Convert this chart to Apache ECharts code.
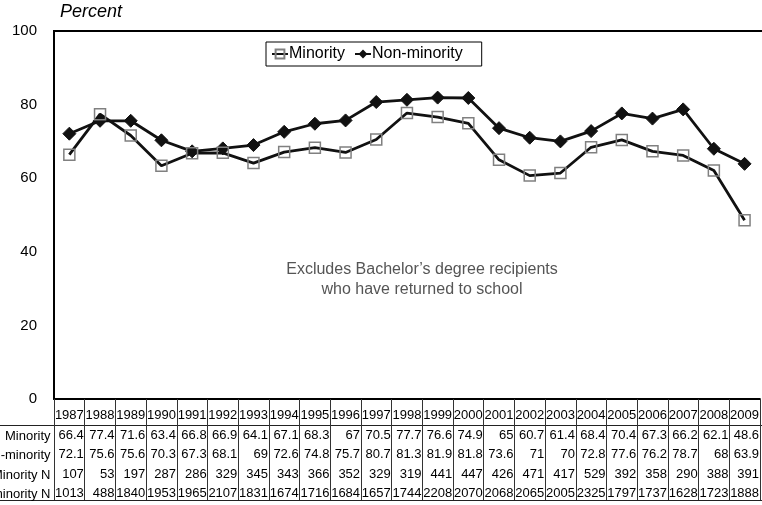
<!DOCTYPE html>
<html>
<head>
<meta charset="utf-8">
<script src="https://cdn.jsdelivr.net/npm/echarts@6/dist/echarts.min.js"></script>
<style>
html,body{margin:0;padding:0;background:#fff;}
#c{width:762px;height:505px;}
</style>
</head>
<body>
<div id="c"></div>
<script>
var years = ['1987','1988','1989','1990','1991','1992','1993','1994','1995','1996','1997','1998','1999','2000','2001','2002','2003','2004','2005','2006','2007','2008','2009'];
var minority = [66.4,77.4,71.6,63.4,66.8,66.9,64.1,67.1,68.3,67,70.5,77.7,76.6,74.9,65,60.7,61.4,68.4,70.4,67.3,66.2,62.1,48.6];
var nonMinority = [72.1,75.6,75.6,70.3,67.3,68.1,69,72.6,74.8,75.7,80.7,81.3,81.9,81.8,73.6,71,70,72.8,77.6,76.2,78.7,68,63.9];
var minorityN = [107,53,197,287,286,329,345,343,366,352,329,319,441,447,426,471,417,529,392,358,290,388,391];
var nonMinorityN = [1013,488,1840,1953,1965,2107,1831,1674,1716,1684,1657,1744,2208,2070,2068,2065,2005,2325,1797,1737,1628,1723,1888];
var rowLabels = ['Minority','Non-minority','Minority N','Non-minority N'];
var note = ['Excludes Bachelor\u2019s degree recipients','who have returned to school'];

var FONT = 'Liberation Sans, Arial, sans-serif';
var chart = echarts.init(document.getElementById('c'), null, {renderer:'canvas'});

var rowY = [436.25, 455.75, 475.25, 494.75];
var graphics = [
  {type:'text', left:60, top:3, style:{text:'Percent', font:'italic 18px ' + FONT, fill:'#000'}},
  {type:'line', shape:{x1:53, y1:31, x2:762, y2:31}, style:{stroke:'#000', lineWidth:2}},
  {type:'line', shape:{x1:0, y1:425.5, x2:762, y2:425.5}, style:{stroke:'#222', lineWidth:1}},
  {type:'line', shape:{x1:0, y1:500.5, x2:762, y2:500.5}, style:{stroke:'#222', lineWidth:1}},
  {type:'text', x:422, y:280, style:{text:note.join('\n'), font:'16px ' + FONT, fill:'#555', align:'center', verticalAlign:'middle', lineHeight:20}}
];
rowLabels.forEach(function(t, i){
  graphics.push({type:'text', x:50.5, y:rowY[i], style:{text:t, font:'13px ' + FONT, fill:'#000', align:'right', verticalAlign:'middle'}});
});

chart.setOption({
  animation:false,
  backgroundColor:'#fff',
  grid:{left:54, top:31, width:708.4, height:368, containLabel:false},
  legend:{
    left:266, top:42, padding:[4,19,4,5], itemGap:9, itemWidth:16, itemHeight:11,
    borderColor:'#000', borderWidth:1,
    textStyle:{fontFamily:FONT, fontSize:16, color:'#000', padding:[0,0,0,-4]},
    data:['Minority','Non-minority']
  },
  xAxis:{
    type:'category', data:years, boundaryGap:true, position:'bottom',
    axisLine:{show:true, onZero:false, lineStyle:{color:'#000', width:2}},
    axisTick:{show:true, alignWithLabel:false, length:101, lineStyle:{color:'#333', width:1}},
    axisLabel:{
      interval:0, margin:7, color:'#000', fontFamily:FONT, fontSize:13,
      formatter:function(v, i){
        return '{y|' + v + '}\n{v|' + minority[i] + '}\n{v|' + nonMinority[i] + '}\n{v|' + minorityN[i] + '}\n{v|' + nonMinorityN[i] + '}';
      },
      rich:{
        y:{width:29, align:'center', fontFamily:FONT, fontSize:13, color:'#000', lineHeight:19.5},
        v:{width:26, align:'right', fontFamily:FONT, fontSize:13, color:'#000', lineHeight:19.5}
      }
    },
    splitLine:{show:false}
  },
  yAxis:{
    type:'value', min:0, max:100, interval:20,
    axisLine:{show:true, lineStyle:{color:'#000', width:2}},
    axisTick:{show:false},
    axisLabel:{margin:17, color:'#000', fontFamily:FONT, fontSize:15},
    splitLine:{show:false}
  },
  series:[{
    name:'Non-minority', type:'line', data:nonMinority,
    symbol:'diamond', symbolSize:13,
    lineStyle:{color:'#111', width:2.8},
    itemStyle:{color:'#111', borderColor:'#111'}
  },{
    name:'Minority', type:'line', data:minority,
    symbol:'rect', symbolSize:11,
    lineStyle:{color:'#111', width:2.8},
    itemStyle:{color:'rgba(0,0,0,0)', borderColor:'#808080', borderWidth:1.5}
  }],
  graphic:graphics
});
</script>
</body>
</html>
